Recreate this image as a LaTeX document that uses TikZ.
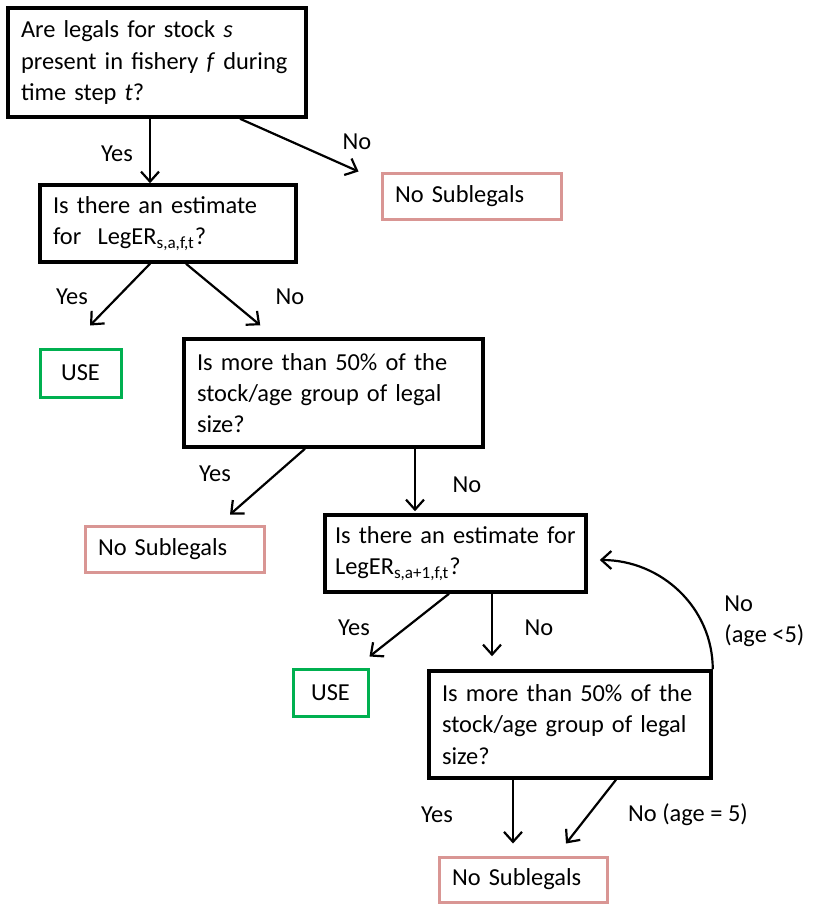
\documentclass[tikz,border=0pt]{standalone}
\usepackage{fontspec}
\setmainfont{Carlito}
\usetikzlibrary{arrows.meta}
\definecolor{subpink}{RGB}{217,150,148}
\definecolor{usegreen}{RGB}{0,176,80}

\begin{document}
\begin{tikzpicture}[x=0.5pt,y=-0.5pt,
    font=\fontsize{12.2}{15.6}\selectfont,
    qbox/.style={draw, line width=1.75pt, align=left, inner xsep=6.5pt, inner ysep=0pt},
    nosub/.style={draw=subpink, line width=1.5pt, align=left, inner xsep=6.5pt, inner ysep=0pt, minimum height=23pt},
    usebox/.style={draw=usegreen, line width=1.5pt, align=center, inner sep=0pt},
    arr/.style={-{Straight Barb[length=5pt,width=9pt]}, line width=1.1pt},
    lbl/.style={inner sep=0pt}]
            % Same Bounding Box
            \useasboundingbox (0,0) rectangle (833,904);

            % Questions
            \node[qbox, text width=136pt, minimum height=54.5pt] (q1) at (157,62.5)
                {Are legals for stock \textit{s}\\present in fishery \textit{f} during\\time step \textit{t}?};
            \node[qbox, text width=115pt, minimum height=38.5pt] (q2) at (168,223.5)
                {Is there an estimate\\for\ \ LegER\textsubscript{s,a,f,t}?};
            \node[qbox, text width=136.5pt, minimum height=54pt] (q3) at (333.5,393)
                {Is more than 50\% of the\\stock/age group of legal\\size?};
            \node[qbox, inner xsep=5pt, text width=120.5pt, minimum height=38.5pt] (q4) at (455.5,553.5)
                {Is there an estimate for\\LegER\textsubscript{s,a+1,f,t}?};
            \node[qbox, text width=128pt, minimum height=53.5pt] (q5) at (570,724.5)
                {Is more than 50\% of the\\stock/age group of legal\\size?};

            % Outcomes
            \node[nosub, text width=76.5pt] (nos1) at (471.5,196) {No Sublegals};
            \node[nosub, text width=76.5pt] (nos2) at (174.5,549) {No Sublegals};
            \node[nosub, text width=71pt, minimum height=22.5pt] (nos3) at (523,879.5) {No Sublegals};
            \node[usebox, minimum width=40.5pt, minimum height=24pt] (use1) at (80.5,373) {USE};
            \node[usebox, minimum width=37.5pt, minimum height=23.5pt] (use2) at (330.5,692.5) {USE};

            % Arrows
            \draw[arr] ([xshift=-3.5pt]q1.south) -- ([xshift=-9pt]q2.north);
            \draw[arr] ([xshift=41.5pt]q1.south) -- ([xshift=-11pt]nos1.north west);
            \draw[arr] ([xshift=-9pt]q2.south) -- ([xshift=4.75pt,yshift=11pt]use1.north);
            \draw[arr] ([xshift=9pt]q2.south) -- ([xshift=39pt,yshift=6pt]q3.north west);
            \draw[arr] ([xshift=-14.25pt]q3.south) -- ([xshift=27.75pt,yshift=5pt]nos2.north);
            \draw[arr] ([xshift=40.75pt]q3.south) -- ([xshift=-20.25pt,yshift=1pt]q4.north);
            \draw[arr] ([xshift=-3.25pt]q4.south) -- ([yshift=5.5pt]use2.north east);
            \draw[arr] ([xshift=18.25pt]q4.south) -- ([xshift=-39pt,yshift=6.5pt]q5.north);
            \draw[arr] ([xshift=-28.5pt]q5.south) -- ([xshift=-5pt,yshift=6pt]nos3.north);
            \draw[arr] ([xshift=23pt]q5.south) -- ([xshift=21.5pt,yshift=6pt]nos3.north);
            \draw[arr] (q5.north east) to[out=90,in=0] ([xshift=6pt,yshift=-3.25pt]q4.east);

            % Labels
            \node[lbl] (y1) at (117,154) {Yes};
            \node[lbl] (n1) at (357,142) {No};
            \node[lbl] (y2) at (72,297) {Yes};
            \node[lbl] (n2) at (290,297) {No};
            \node[lbl] (y3) at (215,474) {Yes};
            \node[lbl] (n3) at (467,485) {No};
            \node[lbl] (y4) at (354,628) {Yes};
            \node[lbl] (n4) at (539,628) {No};
            \node[lbl] (y5) at (437,815) {Yes};
            \node[lbl] (n5) at (688,815) {No (age = 5)};
            \node[lbl, align=left, anchor=west] (n6) at (724,621) {No\\(age <5)};
        \end{tikzpicture}
\end{document}
